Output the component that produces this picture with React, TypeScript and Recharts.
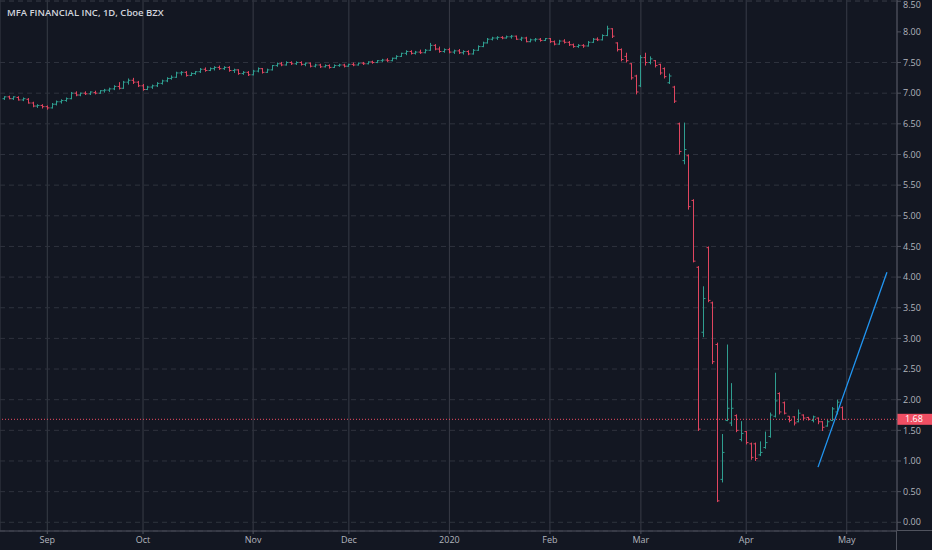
import { Bar, CartesianGrid, ComposedChart, ReferenceLine, XAxis, YAxis } from 'recharts';

// daily bars, [open, high, low, close]
const augBars = [
  [6.91, 6.95, 6.89, 6.94], [6.94, 6.96, 6.90, 6.91], [6.91, 6.95, 6.89, 6.94], [6.93, 6.95, 6.88, 6.89],
  [6.89, 6.93, 6.87, 6.91], [6.90, 6.92, 6.83, 6.84], [6.84, 6.86, 6.77, 6.79], [6.79, 6.82, 6.76, 6.80],
  [6.80, 6.82, 6.75, 6.78],
];
const sepBars = [
  [6.78, 6.80, 6.73, 6.76], [6.76, 6.84, 6.75, 6.82], [6.82, 6.88, 6.80, 6.86], [6.86, 6.90, 6.83, 6.88],
  [6.88, 6.93, 6.86, 6.91], [6.91, 7.02, 6.90, 7.00], [7.00, 7.03, 6.95, 6.97], [6.97, 7.01, 6.95, 7.00],
  [7.00, 7.03, 6.97, 6.99], [6.99, 7.03, 6.97, 7.02], [7.01, 7.04, 6.98, 7.00], [7.00, 7.05, 6.99, 7.04],
  [7.04, 7.07, 7.01, 7.05], [7.05, 7.09, 7.02, 7.07], [7.07, 7.13, 7.05, 7.11], [7.11, 7.18, 7.06, 7.08],
  [7.08, 7.20, 7.07, 7.18], [7.18, 7.24, 7.14, 7.21], [7.21, 7.25, 7.15, 7.18], [7.18, 7.20, 7.10, 7.12],
];
const octBars = [
  [7.12, 7.15, 7.04, 7.06], [7.06, 7.12, 7.05, 7.10], [7.10, 7.14, 7.07, 7.12], [7.12, 7.18, 7.10, 7.16],
  [7.16, 7.22, 7.14, 7.20], [7.20, 7.26, 7.18, 7.24], [7.24, 7.29, 7.22, 7.26], [7.26, 7.35, 7.25, 7.33],
  [7.33, 7.36, 7.29, 7.34], [7.34, 7.36, 7.27, 7.29], [7.29, 7.34, 7.28, 7.32], [7.32, 7.36, 7.30, 7.35],
  [7.35, 7.41, 7.33, 7.39], [7.39, 7.42, 7.35, 7.37], [7.37, 7.42, 7.36, 7.40], [7.40, 7.44, 7.37, 7.42],
  [7.42, 7.45, 7.38, 7.40], [7.40, 7.44, 7.38, 7.42], [7.42, 7.44, 7.35, 7.37], [7.37, 7.40, 7.33, 7.38],
  [7.38, 7.39, 7.30, 7.32], [7.32, 7.36, 7.30, 7.34], [7.34, 7.36, 7.28, 7.30],
];
const novBars = [
  [7.30, 7.38, 7.29, 7.36], [7.36, 7.42, 7.34, 7.40], [7.40, 7.41, 7.32, 7.34], [7.34, 7.40, 7.33, 7.38],
  [7.38, 7.46, 7.37, 7.45], [7.45, 7.50, 7.43, 7.48], [7.48, 7.51, 7.44, 7.46], [7.46, 7.52, 7.45, 7.50],
  [7.50, 7.52, 7.46, 7.48], [7.48, 7.52, 7.46, 7.50], [7.50, 7.52, 7.45, 7.47], [7.47, 7.50, 7.44, 7.49],
  [7.49, 7.50, 7.42, 7.44], [7.44, 7.48, 7.42, 7.46], [7.46, 7.48, 7.41, 7.43], [7.43, 7.47, 7.42, 7.45],
  [7.45, 7.47, 7.40, 7.42], [7.42, 7.47, 7.41, 7.45], [7.45, 7.48, 7.43, 7.46], [7.46, 7.48, 7.42, 7.44],
];
const decBars = [
  [7.44, 7.48, 7.43, 7.47], [7.47, 7.50, 7.44, 7.46], [7.46, 7.50, 7.45, 7.49], [7.49, 7.51, 7.46, 7.48],
  [7.48, 7.52, 7.47, 7.51], [7.51, 7.53, 7.48, 7.50], [7.50, 7.54, 7.49, 7.53], [7.53, 7.56, 7.51, 7.54],
  [7.54, 7.57, 7.51, 7.53], [7.53, 7.58, 7.52, 7.57], [7.57, 7.62, 7.55, 7.60], [7.60, 7.66, 7.59, 7.65],
  [7.65, 7.70, 7.62, 7.68], [7.68, 7.70, 7.63, 7.65], [7.65, 7.69, 7.63, 7.67], [7.67, 7.71, 7.64, 7.66],
  [7.66, 7.72, 7.65, 7.70], [7.70, 7.82, 7.69, 7.78], [7.78, 7.80, 7.70, 7.72], [7.72, 7.76, 7.66, 7.68],
  [7.68, 7.73, 7.66, 7.71],
];
const janBars = [
  [7.71, 7.74, 7.65, 7.67], [7.67, 7.71, 7.64, 7.69], [7.69, 7.72, 7.64, 7.66], [7.66, 7.70, 7.63, 7.68],
  [7.68, 7.70, 7.62, 7.64], [7.64, 7.72, 7.63, 7.70], [7.70, 7.78, 7.69, 7.76], [7.76, 7.84, 7.75, 7.82],
  [7.82, 7.90, 7.81, 7.88], [7.88, 7.92, 7.86, 7.90], [7.90, 7.93, 7.87, 7.91], [7.91, 7.93, 7.88, 7.90],
  [7.90, 7.94, 7.89, 7.92], [7.92, 7.95, 7.89, 7.93], [7.93, 7.94, 7.87, 7.88], [7.88, 7.92, 7.85, 7.90],
  [7.90, 7.92, 7.83, 7.84], [7.84, 7.89, 7.83, 7.87], [7.87, 7.90, 7.84, 7.88], [7.88, 7.90, 7.84, 7.86],
  [7.86, 7.90, 7.85, 7.89],
];
const febBars = [
  [7.89, 7.90, 7.82, 7.84], [7.84, 7.86, 7.78, 7.80], [7.80, 7.87, 7.79, 7.85], [7.85, 7.88, 7.81, 7.83],
  [7.83, 7.85, 7.77, 7.79], [7.79, 7.81, 7.74, 7.76], [7.76, 7.80, 7.74, 7.78], [7.78, 7.80, 7.74, 7.77],
  [7.77, 7.85, 7.76, 7.83], [7.83, 7.90, 7.82, 7.88], [7.88, 7.91, 7.85, 7.87], [7.87, 7.96, 7.86, 7.94],
  [7.94, 8.10, 7.93, 8.05], [8.05, 8.06, 7.90, 7.93], [7.82, 7.83, 7.68, 7.71], [7.71, 7.73, 7.52, 7.55],
  [7.60, 7.66, 7.50, 7.53], [7.48, 7.49, 7.22, 7.25], [7.28, 7.30, 6.98, 7.02],
];
const marBars = [
  [7.12, 7.62, 7.10, 7.58], [7.58, 7.66, 7.45, 7.50], [7.50, 7.60, 7.47, 7.56], [7.53, 7.54, 7.42, 7.45],
  [7.47, 7.48, 7.30, 7.33], [7.40, 7.42, 7.24, 7.27], [7.17, 7.32, 7.15, 7.28], [7.10, 7.12, 6.84, 6.87],
  [6.50, 6.52, 6.00, 6.05], [5.90, 6.52, 5.84, 6.08], [5.98, 6.00, 5.10, 5.15], [5.25, 5.27, 4.24, 4.26],
  [4.16, 4.18, 1.49, 1.52], [3.10, 3.85, 3.02, 3.65], [4.48, 4.50, 3.59, 3.62], [3.58, 3.60, 2.58, 2.62],
  [2.90, 2.93, 0.33, 0.35], [0.70, 1.44, 0.65, 1.14], [1.66, 2.90, 1.65, 1.86], [1.62, 2.27, 1.57, 1.86],
  [1.74, 1.76, 1.47, 1.50], [1.35, 1.65, 1.32, 1.45],
];
const aprBars = [
  [1.48, 1.49, 1.27, 1.30], [1.28, 1.30, 1.02, 1.06], [1.28, 1.30, 1.00, 1.04], [1.10, 1.32, 1.08, 1.14],
  [1.22, 1.48, 1.20, 1.30], [1.40, 1.79, 1.38, 1.75], [1.73, 2.44, 1.71, 1.98], [2.10, 2.12, 1.76, 1.80],
  [1.95, 1.97, 1.76, 1.78], [1.73, 1.73, 1.63, 1.66], [1.72, 1.73, 1.58, 1.62], [1.64, 1.84, 1.63, 1.78],
  [1.75, 1.76, 1.66, 1.70], [1.71, 1.72, 1.66, 1.68], [1.66, 1.74, 1.63, 1.72], [1.70, 1.71, 1.60, 1.64],
  [1.64, 1.65, 1.49, 1.55], [1.57, 1.67, 1.56, 1.64], [1.66, 1.88, 1.65, 1.85], [1.80, 2.00, 1.76, 1.96],
  [1.87, 1.89, 1.68, 1.68],
];

const monthBars = [augBars, sepBars, octBars, novBars, decBars, janBars, febBars, marBars, aprBars];
const monthLabels = ['Sep', 'Oct', 'Nov', 'Dec', '2020', 'Feb', 'Mar', 'Apr', 'May'];
const priceTicks = [0, 0.5, 1, 1.5, 2, 2.5, 3, 3.5, 4, 4.5, 5, 5.5, 6, 6.5, 7, 7.5, 8, 8.5];
const lastPrice = 1.68;
const trendLine = [{ x: 170, y: 0.9 }, { x: 184.4, y: 4.08 }];

const BG = '#131722';
const UP = '#2f9e90';
const DOWN = '#e0455f';
const TAG = '#f04e63';
const TEXT = '#b2b5be';
const AXIS = '#50535e';
const FONT = '"Open Sans", sans-serif';

const data = monthBars.flat().map(([open, high, low, close], i) => ({
  i, open, high, low, close, range: [low, high],
}));

// first bar index of each labelled month
const monthStarts: number[] = [];
let count = 0;
monthBars.forEach((m) => {
  count += m.length;
  monthStarts.push(count);
});

function OhlcBar(props: any) {
  const { x, y, width, height, payload } = props;
  const { open, high, low, close } = payload;
  const top = Math.min(y, y + height);
  const h = Math.abs(height);
  const span = high - low || 1;
  const toY = (v: number) => top + ((high - v) / span) * h;
  const cx = Math.round(x + width / 2) + 0.5;
  const color = close >= open ? UP : DOWN;
  return (
    <g stroke={color} strokeWidth={1}>
      <line x1={cx} x2={cx} y1={top} y2={top + Math.max(h, 1)} />
      <line x1={cx - 2} x2={cx} y1={toY(open)} y2={toY(open)} />
      <line x1={cx} x2={cx + 2} y1={toY(close)} y2={toY(close)} />
    </g>
  );
}

function PriceTag(props: any) {
  const { viewBox } = props;
  if (!viewBox) return null;
  const left = viewBox.x + viewBox.width;
  const y = viewBox.y;
  return (
    <g>
      <rect x={left} y={y - 5.5} width={35} height={11} fill={TAG} />
      <text x={left + 8} y={y} dy="0.34em" fill="#ffffff" fontSize={9} fontFamily={FONT}>
        {lastPrice.toFixed(2)}
      </text>
    </g>
  );
}

export default function App() {
  return (
    <div style={{ position: 'relative', width: 932, height: 550, background: BG }}>
      <style>{`body{margin:0;background:${BG}}`}</style>
      <ComposedChart width={932} height={550} data={data} margin={{ top: 0, right: 0, bottom: 0, left: 0 }}>
        <CartesianGrid horizontal={false} stroke="#383c47" />
        <CartesianGrid vertical={false} stroke="#2f333e" strokeDasharray="5 4" />
        <XAxis
          type="number"
          dataKey="i"
          domain={[-0.877, 186.5]}
          allowDataOverflow
          ticks={monthStarts}
          tickFormatter={(v) => monthLabels[monthStarts.indexOf(v)]}
          height={19}
          stroke={AXIS}
          tickSize={3}
          tickMargin={3}
          tick={{ fill: TEXT, fontSize: 9, fontFamily: FONT }}
        />
        <YAxis
          orientation="right"
          domain={[-0.142, 8.52]}
          allowDataOverflow
          ticks={priceTicks}
          tickFormatter={(v) => v.toFixed(2)}
          width={35}
          stroke={AXIS}
          tickSize={4}
          tickMargin={2}
          tick={{ fill: TEXT, fontSize: 9, fontFamily: FONT }}
        />
        <Bar dataKey="range" barSize={4} shape={OhlcBar} isAnimationActive={false} />
        <ReferenceLine y={lastPrice} stroke={TAG} strokeDasharray="1 2" label={<PriceTag />} />
        <ReferenceLine segment={trendLine} stroke="#2196f3" strokeWidth={1.3} />
      </ComposedChart>
      <div style={{ position: 'absolute', left: 897, top: 530, width: 35, height: 1, background: AXIS }} />
      <div style={{ position: 'absolute', left: 896, top: 531, width: 1, height: 19, background: AXIS }} />
      <div
        style={{
          position: 'absolute', left: 7, top: 6, color: '#d1d4dc', fontFamily: FONT,
          fontSize: 9.5, fontWeight: 600, whiteSpace: 'nowrap',
        }}
      >
        MFA FINANCIAL INC, 1D, Cboe BZX
      </div>
    </div>
  );
}
